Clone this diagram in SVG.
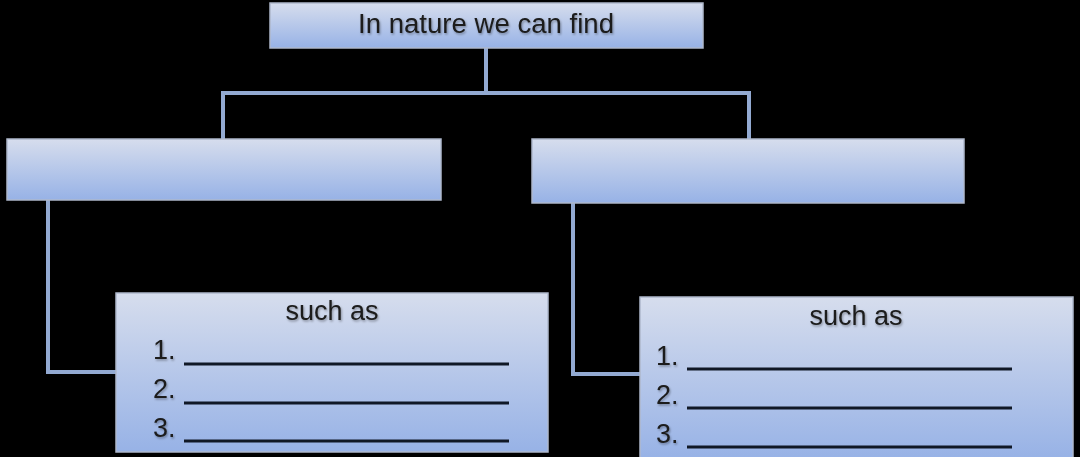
<svg xmlns="http://www.w3.org/2000/svg" width="1080" height="457" viewBox="0 0 1080 457">
<defs>
<linearGradient id="g" x1="0" y1="0" x2="0" y2="1">
<stop offset="0" stop-color="#d6dded"/>
<stop offset="1" stop-color="#97b2e6"/>
</linearGradient>
<filter id="sh" x="-5%" y="-20%" width="110%" height="140%">
<feDropShadow dx="1" dy="1.5" stdDeviation="1" flood-color="#000" flood-opacity="0.35"/>
</filter>
</defs>
<style>
.box{fill:url(#g);stroke:#aeb8cc;stroke-width:1.5}
.t{font-family:"Liberation Sans",Arial,sans-serif;font-size:27px;fill:#1b1b1b;filter:url(#sh)}
.c{fill:none;stroke:#93aad2;stroke-width:4}
.u{stroke:#101826;stroke-width:3}
</style>
<rect width="1080" height="457" fill="#000"/>
<g id="connectors">
<path class="c" d="M486,48 V93 M223,139 V93 H749 V139"/>
<path class="c" d="M48,200 V372 H116"/>
<path class="c" d="M573,203 V374 H640"/>
</g>
<g id="top">
<rect class="box" x="270" y="3" width="433" height="45"/>
<text class="t" x="486" y="33" text-anchor="middle" textLength="256" lengthAdjust="spacingAndGlyphs">In nature we can find</text>
</g>
<g id="left">
<rect class="box" x="7" y="139" width="434" height="61"/>
</g>
<g id="right">
<rect class="box" x="532" y="139" width="432" height="64"/>
</g>
<g id="left-list">
<rect class="box" x="116" y="293" width="432" height="159"/>
<text class="t" x="332" y="320" text-anchor="middle">such as</text>
<text class="t" x="153" y="359">1.</text>
<text class="t" x="153" y="398">2.</text>
<text class="t" x="153" y="437">3.</text>
<line class="u" x1="184" y1="364" x2="509" y2="364"/>
<line class="u" x1="184" y1="403" x2="509" y2="403"/>
<line class="u" x1="184" y1="441" x2="509" y2="441"/>
</g>
<g id="right-list">
<rect class="box" x="640" y="297" width="433" height="162"/>
<text class="t" x="856" y="325" text-anchor="middle">such as</text>
<text class="t" x="656" y="365">1.</text>
<text class="t" x="656" y="404">2.</text>
<text class="t" x="656" y="443">3.</text>
<line class="u" x1="687" y1="369" x2="1012" y2="369"/>
<line class="u" x1="687" y1="408" x2="1012" y2="408"/>
<line class="u" x1="687" y1="447" x2="1012" y2="447"/>
</g>
</svg>
